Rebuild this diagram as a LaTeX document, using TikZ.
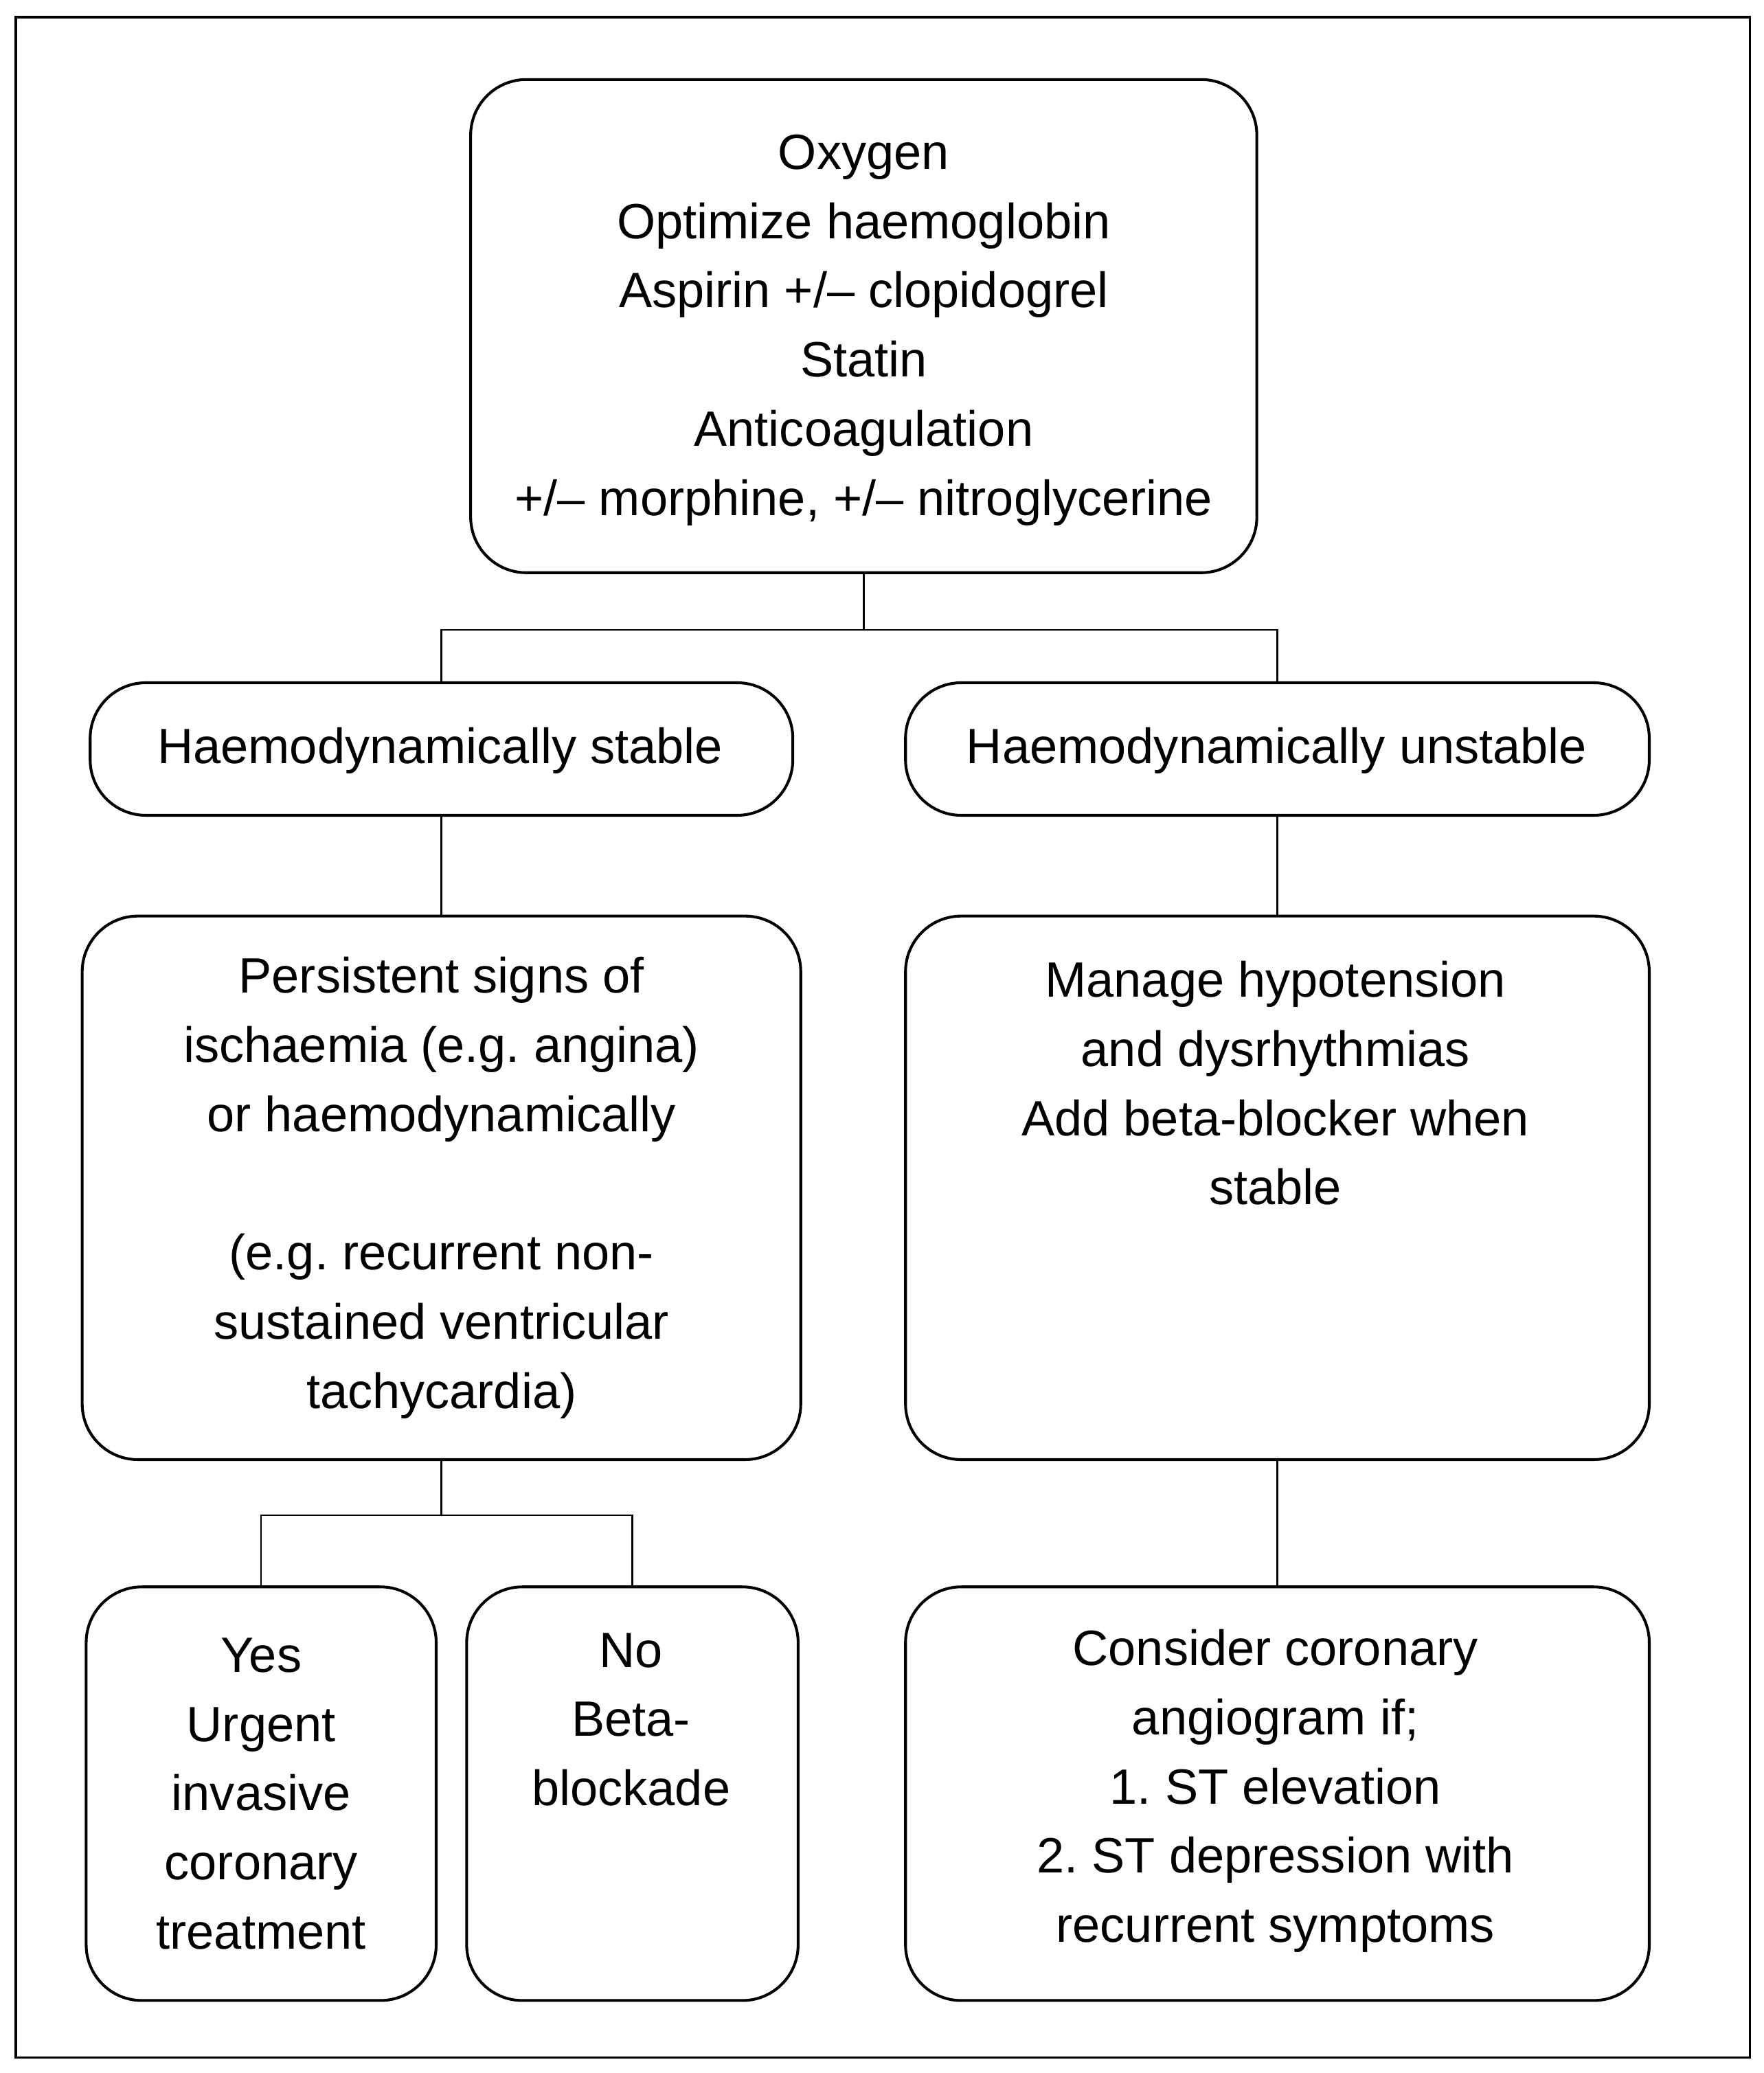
\documentclass[tikz,border=0pt]{standalone}
\usepackage{fontspec}
\setmainfont{Liberation Sans}
\usetikzlibrary{fit}
\frenchspacing
\begin{document}
\begin{tikzpicture}[x=0.02cm,y=-0.02cm,
  box/.style={draw, line width=1.2pt, rounded corners=0.84cm, inner sep=0pt},
  link/.style={line width=0.75pt},
  frame/.style={line width=1pt},
  txt/.style={font=\fontsize{21.3pt}{29.7pt}\selectfont\frenchspacing, align=center, inner sep=0pt}]
\useasboundingbox (0,0) rectangle (1330.05,1563.7);
\draw[frame] (12,13) rectangle (1320,1552);
% boxes
\node[box, fit={(355,60) (948,432)}] (top) {};
\node[box, fit={(68,515) (598,615)}] (stable) {};
\node[box, fit={(683,515) (1244,615)}] (unstable) {};
\node[box, fit={(62,691) (604,1101)}] (persist) {};
\node[box, fit={(683,691) (1244,1101)}] (manage) {};
\node[box, fit={(65,1197) (329,1509)}] (yes) {};
\node[box, fit={(352,1197) (602,1509)}] (no) {};
\node[box, fit={(683,1197) (1244,1509)}] (consider) {};
% texts
\node[txt] (ttop) at (651.5,249) {Oxygen\\Optimize haemoglobin\\Aspirin +/– clopidogrel\\Statin\\Anticoagulation\\+/– morphine, +/– nitroglycerine};
\node[txt] (tstable) at (332,566) {Haemodynamically stable};
\node[txt] (tunstable) at (963,566) {Haemodynamically unstable};
\node[txt] (tpersist) at (333,896) {Persistent signs of\\ischaemia (e.g. angina)\\or haemodynamically\\[29.7pt](e.g. recurrent non-\\sustained ventricular\\tachycardia)};
\node[txt] (tmanage) at (962,817) {Manage hypotension\\and dysrhythmias\\Add beta-blocker when\\stable};
\node[txt] (tyes) at (197,1353) {Yes\\Urgent\\invasive\\coronary\\treatment};
\node[txt] (tno) at (476,1297) {No\\Beta-\\blockade};
\node[txt] (tconsider) at (962,1351) {Consider coronary\\angiogram if;\\1. ST elevation\\2. ST depression with\\recurrent symptoms};
% connectors
\path (top.south) ++(0,42) coordinate (j1);
\draw[link] (top.south) -- (j1);
\draw[link] (stable.north) |- (j1);
\draw[link] (j1) -| (unstable.north);
\draw[link] (stable.south) -- (persist.north);
\draw[link] (unstable.south) -- (manage.north);
\path (persist.south) ++(0,41) coordinate (j2);
\draw[link] (persist.south) -- (j2);
\draw[link] (yes.north) |- (j2);
\draw[link] (j2) -| (no.north);
\draw[link] (manage.south) -- (consider.north);
\end{tikzpicture}
\end{document}
